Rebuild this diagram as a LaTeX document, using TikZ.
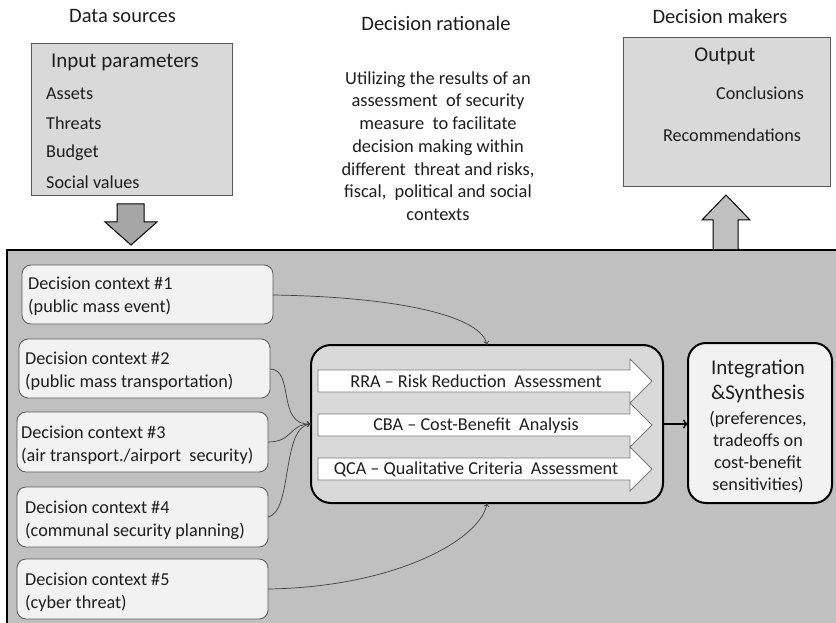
\documentclass[tikz,border=0pt]{standalone}
\usepackage{fontspec}
\setmainfont{Carlito}
\usetikzlibrary{arrows.meta}
\definecolor{bgmain}{HTML}{C0C0C0}
\definecolor{boxgray}{HTML}{D9D9D9}
\definecolor{ctxfill}{HTML}{F2F2F2}
\definecolor{txt}{HTML}{1E1E1E}
\definecolor{edgegray}{HTML}{595959}
\definecolor{downfill}{HTML}{A6A6A6}
\tikzset{
  lbl/.style={text=txt, font=\fontsize{18.2}{22}\selectfont, inner sep=0pt},
  head/.style={text=txt, font=\fontsize{20.5}{24}\selectfont, inner sep=0pt},
  ctxbox/.style={draw=edgegray, line width=0.8pt, fill=ctxfill, rounded corners=9pt},
  ctxtext/.style={lbl, align=left, anchor=west, font=\fontsize{18.2}{23}\selectfont},
  conn/.style={draw=txt!85, line width=0.7pt, -{To[length=4pt,width=6pt]}},
  blockarr/.style={draw=edgegray!80, line width=0.8pt, fill=white},
}
\begin{document}
\begin{tikzpicture}[x=1pt,y=-1pt]
\useasboundingbox (0,0) rectangle (836,623);
\clip (0,0) rectangle (836,623);
\fill[white] (0,0) rectangle (836,623);

% headings
\node[head] (hds) at (122.5,16) {Data sources};
\node[head] (hdr) at (436,23) {Decision rationale};
\node[head] (hdm) at (720,16) {Decision makers};

% input box
\draw[draw=edgegray, line width=0.8pt, fill=boxgray] (31,43) rectangle (232,195);
\node[lbl, font=\fontsize{21}{24}\selectfont] (inp) at (125,62) {Input parameters};
\node[lbl, anchor=west] (as) at (46,94) {Assets};
\node[lbl, anchor=west] (th) at (46,123) {Threats};
\node[lbl, anchor=west] (bu) at (46,153) {Budget};
\node[lbl, anchor=west] (so) at (46,182) {Social values};

% rationale text
\node[lbl, align=center, font=\fontsize{18.4}{22.7}\selectfont] (rat) at (438,146)
 {Utilizing the results of an\\ assessment\ \ of security\\ measure\ \ to facilitate\\ decision making within\\ different\ \ threat and risks,\\ fiscal,\ \ political and social\\ contexts};

% output box
\draw[draw=edgegray, line width=0.8pt, fill=boxgray] (623,37) rectangle (830,186);
\node[lbl, font=\fontsize{21}{24}\selectfont] (out) at (725,56) {Output};
\node[lbl] (con) at (760,93) {Conclusions};
\node[lbl] (rec) at (732,135) {Recommendations};

% main panel
\draw[line width=2pt, fill=bgmain] (7,250) rectangle (845,630);

% big arrows
\draw[line width=1pt, fill=downfill] (117,204) -- (144,204) -- (144,222) -- (157,222) -- (131,245)
  -- (105,222) -- (117,222) -- cycle;
\draw[line width=1pt, fill=bgmain] (713,249) -- (713,220) -- (702,220) -- (726,195) -- (750,220)
  -- (738,220) -- (738,249);

% decision contexts
\draw[ctxbox] (22,265) rectangle (273,324);
\node[ctxtext] (dc1) at (28,296.5) {Decision context \#1\\(public mass event)};
\draw[ctxbox] (19,339) rectangle (270,398);
\node[ctxtext] (dc2) at (25,371) {Decision context \#2\\(public mass transportation)};
\draw[ctxbox] (17,412) rectangle (268,472);
\node[ctxtext] (dc3) at (21,445) {Decision context \#3\\(air transport./airport\ \ security)};
\draw[ctxbox] (17,487) rectangle (268,547);
\node[ctxtext] (dc4) at (25,520) {Decision context \#4\\(communal security planning)};
\draw[ctxbox] (17,559) rectangle (268,619);
\node[ctxtext] (dc5) at (25,592) {Decision context \#5\\(cyber threat)};
\coordinate (e1) at (273,295);
\coordinate (e2) at (270,369);
\coordinate (e3) at (268,442);
\coordinate (e4) at (268,517);
\coordinate (e5) at (268,589);

% central box
\draw[line width=2pt, fill=boxgray, rounded corners=20pt] (311,345) rectangle (663,503);
\coordinate (cw) at (311,424);
\coordinate (cn) at (487,345);
\coordinate (cs) at (487,503);
\coordinate (ce) at (663,424);

\foreach \m/\t [count=\i] in {381/{RRA -- Risk Reduction\ \ Assessment}, 425/{CBA -- Cost-Benefit\ \ Analysis}, 469/{QCA -- Qualitative Criteria\ \ Assessment}}{
  \draw[blockarr] (318,\m-11) -- (630,\m-11) -- (630,\m-22) -- (652,\m) -- (630,\m+22) -- (630,\m+11) -- (318,\m+11) -- cycle;
  \node[lbl] (ba\i) at (476,\m+0.5) {\t};
}

% integration box
\draw[line width=2pt, fill=ctxfill, rounded corners=18pt] (688,343) rectangle (832,503);
\node[lbl, align=center, font=\fontsize{21}{25}\selectfont] (int1) at (758,381) {Integration\\\&Synthesis};
\node[lbl, align=center, font=\fontsize{18.2}{22}\selectfont] (int2) at (758,452) {(preferences,\\tradeoffs on\\cost-benefit\\sensitivities)};
\coordinate (iw) at (688,424);

% connectors
\draw[conn] (e1) .. controls +(130,2) and +(-5,-28) .. (cn);
\draw[conn] (e2) .. controls +(25,0) and +(-35,2) .. (cw);
\draw[conn] (e3) .. controls +(25,0) and +(-22,0) .. (cw);
\draw[conn] (e4) .. controls +(25,-5) and +(-30,2) .. (cw);
\draw[conn] (e5) .. controls +(130,-2) and +(-5,35) .. (cs);
\draw[line width=1.4pt, -{To[length=5pt,width=9pt]}] (ce) -- (iw);
\end{tikzpicture}
\end{document}
